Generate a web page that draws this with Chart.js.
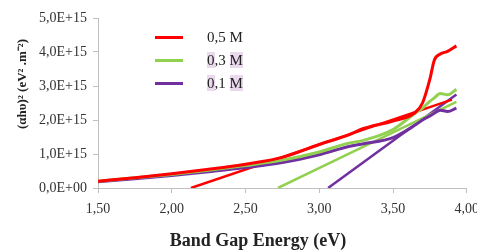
<!DOCTYPE html>
<html>
<head>
<meta charset="utf-8">
<script src="https://cdn.jsdelivr.net/npm/chart.js@4/dist/chart.umd.min.js"></script>
<style>
  body { margin: 0; background: #fff; overflow: hidden; }
  #wrap { position: relative; width: 477px; height: 252px; overflow: hidden; }
  #legenda { position: absolute; left: 155px; top: 26px; font: 15px "Liberation Serif", serif; color: #222; }
  .item { height: 23px; display: flex; align-items: center; }
  .amostra { width: 28px; height: 3px; margin-right: 24px; }
  .h { background: #ead8ec; }
</style>
</head>
<body>
<div id="wrap">
  <canvas id="grafico" width="487" height="252"></canvas>
  <div id="legenda"></div>
</div>
<script>
const vermelho = '#ff0000'
const verde = '#92d050'
const roxo = '#7030a0'

// energia (eV) das curvas medidas
const energia = [1.50, 1.75, 2.00, 2.25, 2.50, 2.75, 3.00, 3.20, 3.30, 3.50, 3.65, 3.70, 3.75, 3.78, 3.82, 3.87, 3.93]
// (ahv)^2 em unidades de 1E+15
const curva_05 = [0.20, 0.30, 0.42, 0.55, 0.70, 0.90, 1.28, 1.56, 1.75, 1.97, 2.22, 2.50, 3.20, 3.76, 3.94, 4.02, 4.18]
const curva_03 = [0.20, 0.30, 0.40, 0.52, 0.66, 0.82, 1.06, 1.32, 1.40, 1.72, 2.20, 2.35, 2.55, 2.65, 2.78, 2.74, 2.90]
const curva_01 = [0.18, 0.27, 0.37, 0.48, 0.60, 0.75, 0.98, 1.22, 1.30, 1.48, 1.85, 2.00, 2.12, 2.20, 2.29, 2.25, 2.35]

// retas tangentes (extrapolacao do gap)
const reta_05_x = [2.13, 3.90]
const reta_05_y = [0, 2.60]
const reta_03_x = [2.72, 3.93]
const reta_03_y = [0, 2.53]
const reta_01_x = [3.06, 3.93]
const reta_01_y = [0, 2.75]

const rotulos = ['0,5 M', '0,3 M', '0,1 M']

function pontos(xs, ys) {
    return xs.map((x, i) => ({ x: x, y: ys[i] }))
}

function serie(label, xs, ys, cor, largura) {
    return {
        label: label,
        data: pontos(xs, ys),
        showLine: true,
        borderColor: cor,
        backgroundColor: cor,
        borderWidth: largura,
        pointRadius: 0,
        cubicInterpolationMode: 'monotone'
    }
}

const data = {
    datasets: [
        serie(rotulos[0], energia, curva_05, vermelho, 3),
        serie(rotulos[1], energia, curva_03, verde, 3),
        serie(rotulos[2], energia, curva_01, roxo, 3),
        serie('', reta_05_x, reta_05_y, vermelho, 2.5),
        serie('', reta_03_x, reta_03_y, verde, 2.5),
        serie('', reta_01_x, reta_01_y, roxo, 2.5)
    ]
}

const familia = '"Liberation Serif", "Times New Roman", serif'
const fonte = { family: familia, size: 14 }

// titulos dos eixos desenhados na mesma posicao do original
const titulos = {
    id: 'titulos',
    afterDraw(chart) {
        const ctx = chart.ctx
        ctx.save()
        ctx.fillStyle = '#222'
        ctx.textAlign = 'center'
        ctx.textBaseline = 'middle'
        ctx.font = 'bold 18px ' + familia
        ctx.fillText('Band Gap Energy (eV)', 258, 241)
        ctx.translate(23, 84)
        ctx.rotate(-Math.PI / 2)
        ctx.font = 'bold 13px ' + familia
        ctx.fillText('(\u03b1h\u03c5)\u00b2 (eV\u00b2 .m\u207b\u00b2)', 0, 0)
        ctx.restore()
    }
}

const config = {
    type: 'scatter',
    data: data,
    plugins: [titulos],
    options: {
        responsive: false,
        animation: false,
        devicePixelRatio: 1,
        layout: { padding: { left: 0, right: 0, top: 18, bottom: 0 } },
        plugins: { legend: { display: false }, tooltip: { enabled: false } },
        scales: {
            x: {
                type: 'linear',
                min: 1.5,
                max: 4.0,
                afterFit(scale) { scale.height = 64 },
                ticks: {
                    stepSize: 0.5,
                    padding: 8,
                    color: '#333',
                    font: fonte,
                    callback: v => v.toFixed(2).replace('.', ',')
                },
                grid: { drawOnChartArea: false, tickLength: 5, color: '#bfbfbf' },
                border: { color: '#bfbfbf' }
            },
            y: {
                min: 0,
                max: 5,
                afterFit(scale) { scale.width = 98 },
                ticks: {
                    stepSize: 1,
                    padding: 6,
                    color: '#333',
                    font: fonte,
                    callback: v => v.toFixed(1).replace('.', ',') + (v === 0 ? 'E+00' : 'E+15')
                },
                grid: { drawOnChartArea: false, tickLength: 5, color: '#bfbfbf' },
                border: { color: '#bfbfbf' }
            }
        }
    }
}

const myChart = new Chart(document.querySelector('#grafico'), config)

// legenda dentro da area do grafico
const legenda = document.querySelector('#legenda')
const textos = ['0,5 M', '<span class="h">0</span>,3 <span class="h">M</span>', '<span class="h">0</span>,1 <span class="h">M</span>']
myChart.data.datasets.slice(0, 3).forEach((ds, i) => {
    const item = document.createElement('div')
    item.className = 'item'
    item.innerHTML = '<div class="amostra" style="background:' + ds.borderColor + '"></div><span>' + textos[i] + '</span>'
    legenda.appendChild(item)
})
</script>
</body>
</html>
